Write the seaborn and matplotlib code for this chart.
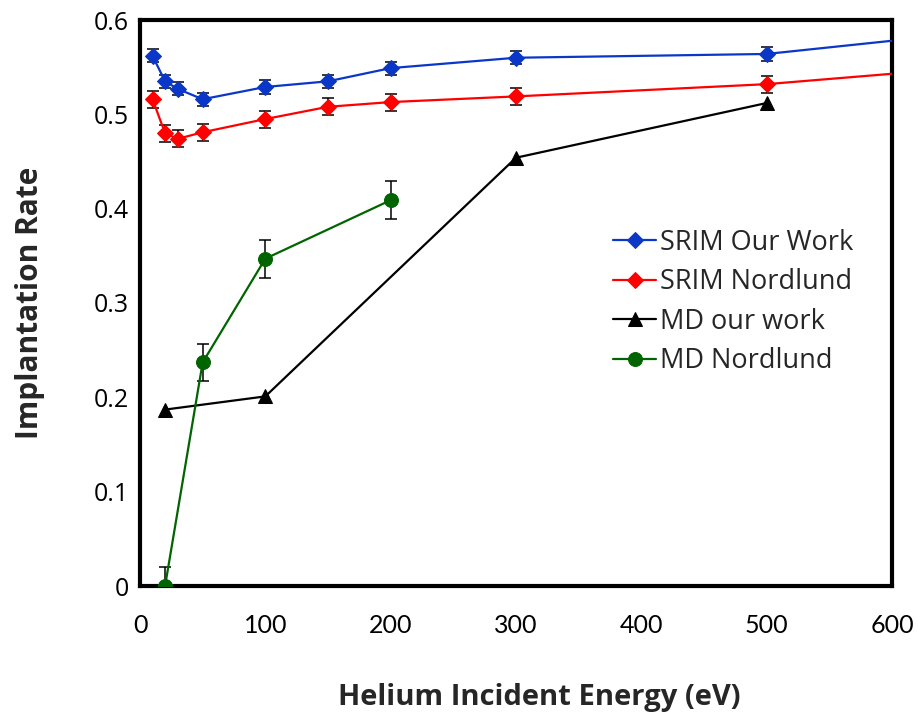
import matplotlib
matplotlib.use("Agg")
import matplotlib.pyplot as plt
import seaborn as sns
import pandas as pd

# Data
srim_our_x = [10, 20, 30, 50, 100, 150, 200, 300, 500, 1000]
srim_our_y = [0.562, 0.535, 0.527, 0.516, 0.529, 0.535, 0.549, 0.560, 0.564, 0.634]
srim_our_err = [0.007, 0.007, 0.007, 0.007, 0.007, 0.007, 0.007, 0.007, 0.007, 0.007]

srim_nord_x = [10, 20, 30, 50, 100, 150, 200, 300, 500, 1000]
srim_nord_y = [0.516, 0.480, 0.474, 0.481, 0.495, 0.508, 0.513, 0.519, 0.532, 0.587]
srim_nord_err = [0.009, 0.009, 0.009, 0.009, 0.009, 0.009, 0.009, 0.009, 0.009, 0.009]

md_our_x = [20, 100, 300, 500]
md_our_y = [0.187, 0.201, 0.454, 0.512]

md_nord_x = [20, 50, 100, 200]
md_nord_y = [0.000, 0.237, 0.347, 0.409]
md_nord_err = [0.02, 0.02, 0.02, 0.02]

series_names = ["SRIM Our Work", "SRIM Nordlund", "MD our work", "MD Nordlund"]
colors = ["#0a37c8", "#ff0000", "#000000", "#006400"]
markers = ["D", "D", "^", "o"]
msizes = [8, 8, 9.5, 10]

x_ticks = [0, 100, 200, 300, 400, 500, 600]
y_ticks = [0, 0.1, 0.2, 0.3, 0.4, 0.5, 0.6]
y_tick_labels = ["0", "0.1", "0.2", "0.3", "0.4", "0.5", "0.6"]

sns.set_style("white")
plt.rcParams['font.family'] = ['Lato', 'DejaVu Sans']

frames = []
for name, xs, ys in zip(series_names,
                        [srim_our_x, srim_nord_x, md_our_x, md_nord_x],
                        [srim_our_y, srim_nord_y, md_our_y, md_nord_y]):
    frames.append(pd.DataFrame({"x": xs, "y": ys, "series": name}))
df = pd.concat(frames, ignore_index=True)

fig = plt.figure(figsize=(9.18, 7.15), dpi=100)
ax = fig.add_axes([140 / 918, 1 - 586 / 715, 752 / 918, 566 / 715])

for xs, ys, es in [(srim_our_x, srim_our_y, srim_our_err),
                   (srim_nord_x, srim_nord_y, srim_nord_err),
                   (md_nord_x, md_nord_y, md_nord_err)]:
    ax.errorbar(xs, ys, yerr=es, fmt='none', ecolor='black', elinewidth=1.1,
                capsize=4, capthick=1.1, zorder=2)

for name, c, m, ms in zip(series_names, colors, markers, msizes):
    sub = df[df.series == name]
    sns.lineplot(data=sub, x="x", y="y", ax=ax, color=c, marker=m,
                 markersize=ms, markeredgecolor=c, linewidth=1.6,
                 label=name, zorder=3, sort=False)

ax.set_xlim(0, 600)
ax.set_ylim(0, 0.6)
ax.set_xticks(x_ticks)
ax.set_xticklabels([str(v) for v in x_ticks], fontsize=18, family=['Lato', 'DejaVu Sans'])
ax.set_yticks(y_ticks)
ax.set_yticklabels(y_tick_labels, fontsize=18, family=['Open Sans', 'DejaVu Sans'])
ax.tick_params(direction='in', length=7, width=2.5, colors='black')
ax.tick_params(axis='x', pad=20)
ax.tick_params(axis='y', pad=8)
for s in ax.spines.values():
    s.set_linewidth(3)
    s.set_color('black')

ax.set_xlabel("Helium Incident Energy (eV)", fontsize=21, fontweight='bold',
              family=['Open Sans', 'DejaVu Sans'])
ax.set_ylabel("Implantation Rate", fontsize=21.5, fontweight='bold',
              family=['Open Sans', 'DejaVu Sans'])
ax.xaxis.set_label_coords((539 - 140) / 752, (586 - 697) / 566)
ax.xaxis.label.set_va('center')
ax.yaxis.set_label_coords((30 - 140) / 752, 0.5)
ax.yaxis.label.set_va('center')

leg = ax.legend(loc='center left', bbox_to_anchor=((613 - 140) / 752, (586 - 302) / 566),
                frameon=False, prop={'family': ['Open Sans', 'DejaVu Sans'], 'size': 19.5},
                handlelength=1.6, handletextpad=0.15,
                labelspacing=0.42, borderaxespad=0, borderpad=0)

fig.savefig("out.png", dpi=100)
